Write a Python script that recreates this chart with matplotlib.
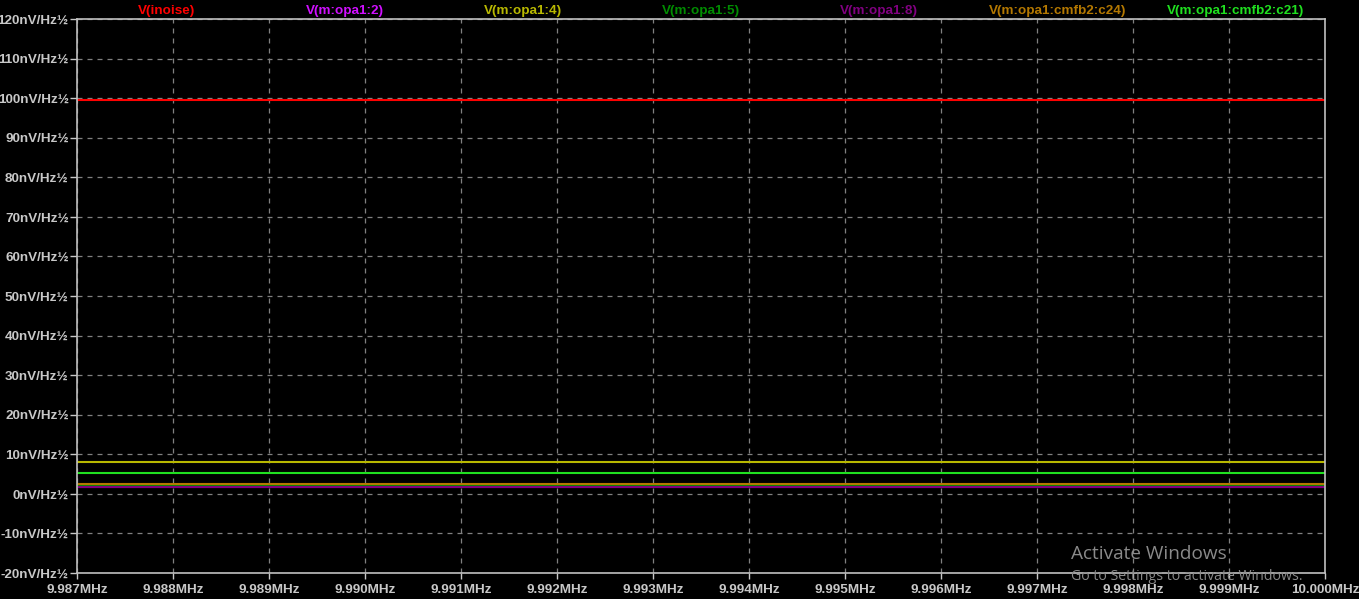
import matplotlib
matplotlib.use("Agg")
import matplotlib.pyplot as plt

# Data
freq_mhz = [9.987, 10.000]
series_names = ["V(inoise)", "V(m:opa1:2)", "V(m:opa1:4)", "V(m:opa1:5)",
                "V(m:opa1:8)", "V(m:opa1:cmfb2:c24)", "V(m:opa1:cmfb2:c21)"]
series_values = {
    "V(inoise)": [99.5, 99.5],
    "V(m:opa1:2)": [1.8, 1.8],
    "V(m:opa1:4)": [8.0, 8.0],
    "V(m:opa1:5)": [1.9, 1.9],
    "V(m:opa1:8)": [1.8, 1.8],
    "V(m:opa1:cmfb2:c24)": [2.6, 2.6],
    "V(m:opa1:cmfb2:c21)": [5.2, 5.2],
}
series_colors = ["#ff0000", "#d010ff", "#b8b800", "#008c00", "#800080", "#b47800", "#20e020"]

x_ticks = [9.987, 9.988, 9.989, 9.990, 9.991, 9.992, 9.993, 9.994, 9.995, 9.996, 9.997, 9.998, 9.999, 10.000]
x_tick_labels = ["9.987MHz", "9.988MHz", "9.989MHz", "9.990MHz", "9.991MHz", "9.992MHz", "9.993MHz",
                 "9.994MHz", "9.995MHz", "9.996MHz", "9.997MHz", "9.998MHz", "9.999MHz", "10.000MHz"]
y_ticks = [-20, -10, 0, 10, 20, 30, 40, 50, 60, 70, 80, 90, 100, 110, 120]
y_tick_labels = [f"{v}nV/Hz½" for v in y_ticks]

fig = plt.figure(figsize=(13.59, 5.99), dpi=100, facecolor="black")
ax = fig.add_axes([77/1359, 1 - 573/599, (1325-77)/1359, (573-19)/599])
ax.set_facecolor("black")

for name, col in zip(series_names, series_colors):
    ax.plot(freq_mhz, series_values[name], color=col, lw=1.5, solid_capstyle="butt")

ax.set_xlim(9.987, 10.000)
ax.set_ylim(-20, 120)
ax.set_xticks(x_ticks)
ax.set_xticklabels(x_tick_labels)
ax.set_yticks(y_ticks)
ax.set_yticklabels(y_tick_labels)

lab_color = "#c8c8c8"
for lab in ax.get_xticklabels() + ax.get_yticklabels():
    lab.set_fontfamily("Liberation Sans")
    lab.set_fontweight("bold")
    lab.set_fontsize(9.7)
    lab.set_color(lab_color)

ax.tick_params(axis="y", length=5, width=1, color=lab_color, pad=1, direction="out")
ax.tick_params(axis="x", length=4, width=1, color=lab_color, pad=4, direction="out")
for sp in ax.spines.values():
    sp.set_color("#c0c0c0")
    sp.set_linewidth(1.2)

ax.grid(True, color="#808080", linestyle=(0, (4, 4)), linewidth=0.9)
ax.set_axisbelow(True)

# Top legend labels, evenly spaced
n = len(series_names)
for i, (name, col) in enumerate(zip(series_names, series_colors)):
    ax.text((i + 0.5) / n, 1.0 + 8/554, name, transform=ax.transAxes, color=col,
            ha="center", va="center", fontsize=9.7, fontweight="bold",
            fontfamily="Liberation Sans")

# Watermark text
fig.text(1071/1359, 1 - 554/599, "Activate Windows", color="#8a8a8a", fontsize=13.7,
         fontfamily="Open Sans", ha="left", va="center")
fig.text(1071/1359, 1 - 576/599, "Go to Settings to activate Windows.", color="#8a8a8a",
         fontsize=10.2, fontfamily="Open Sans", ha="left", va="center")

fig.savefig("out.png", dpi=100, facecolor="black")
